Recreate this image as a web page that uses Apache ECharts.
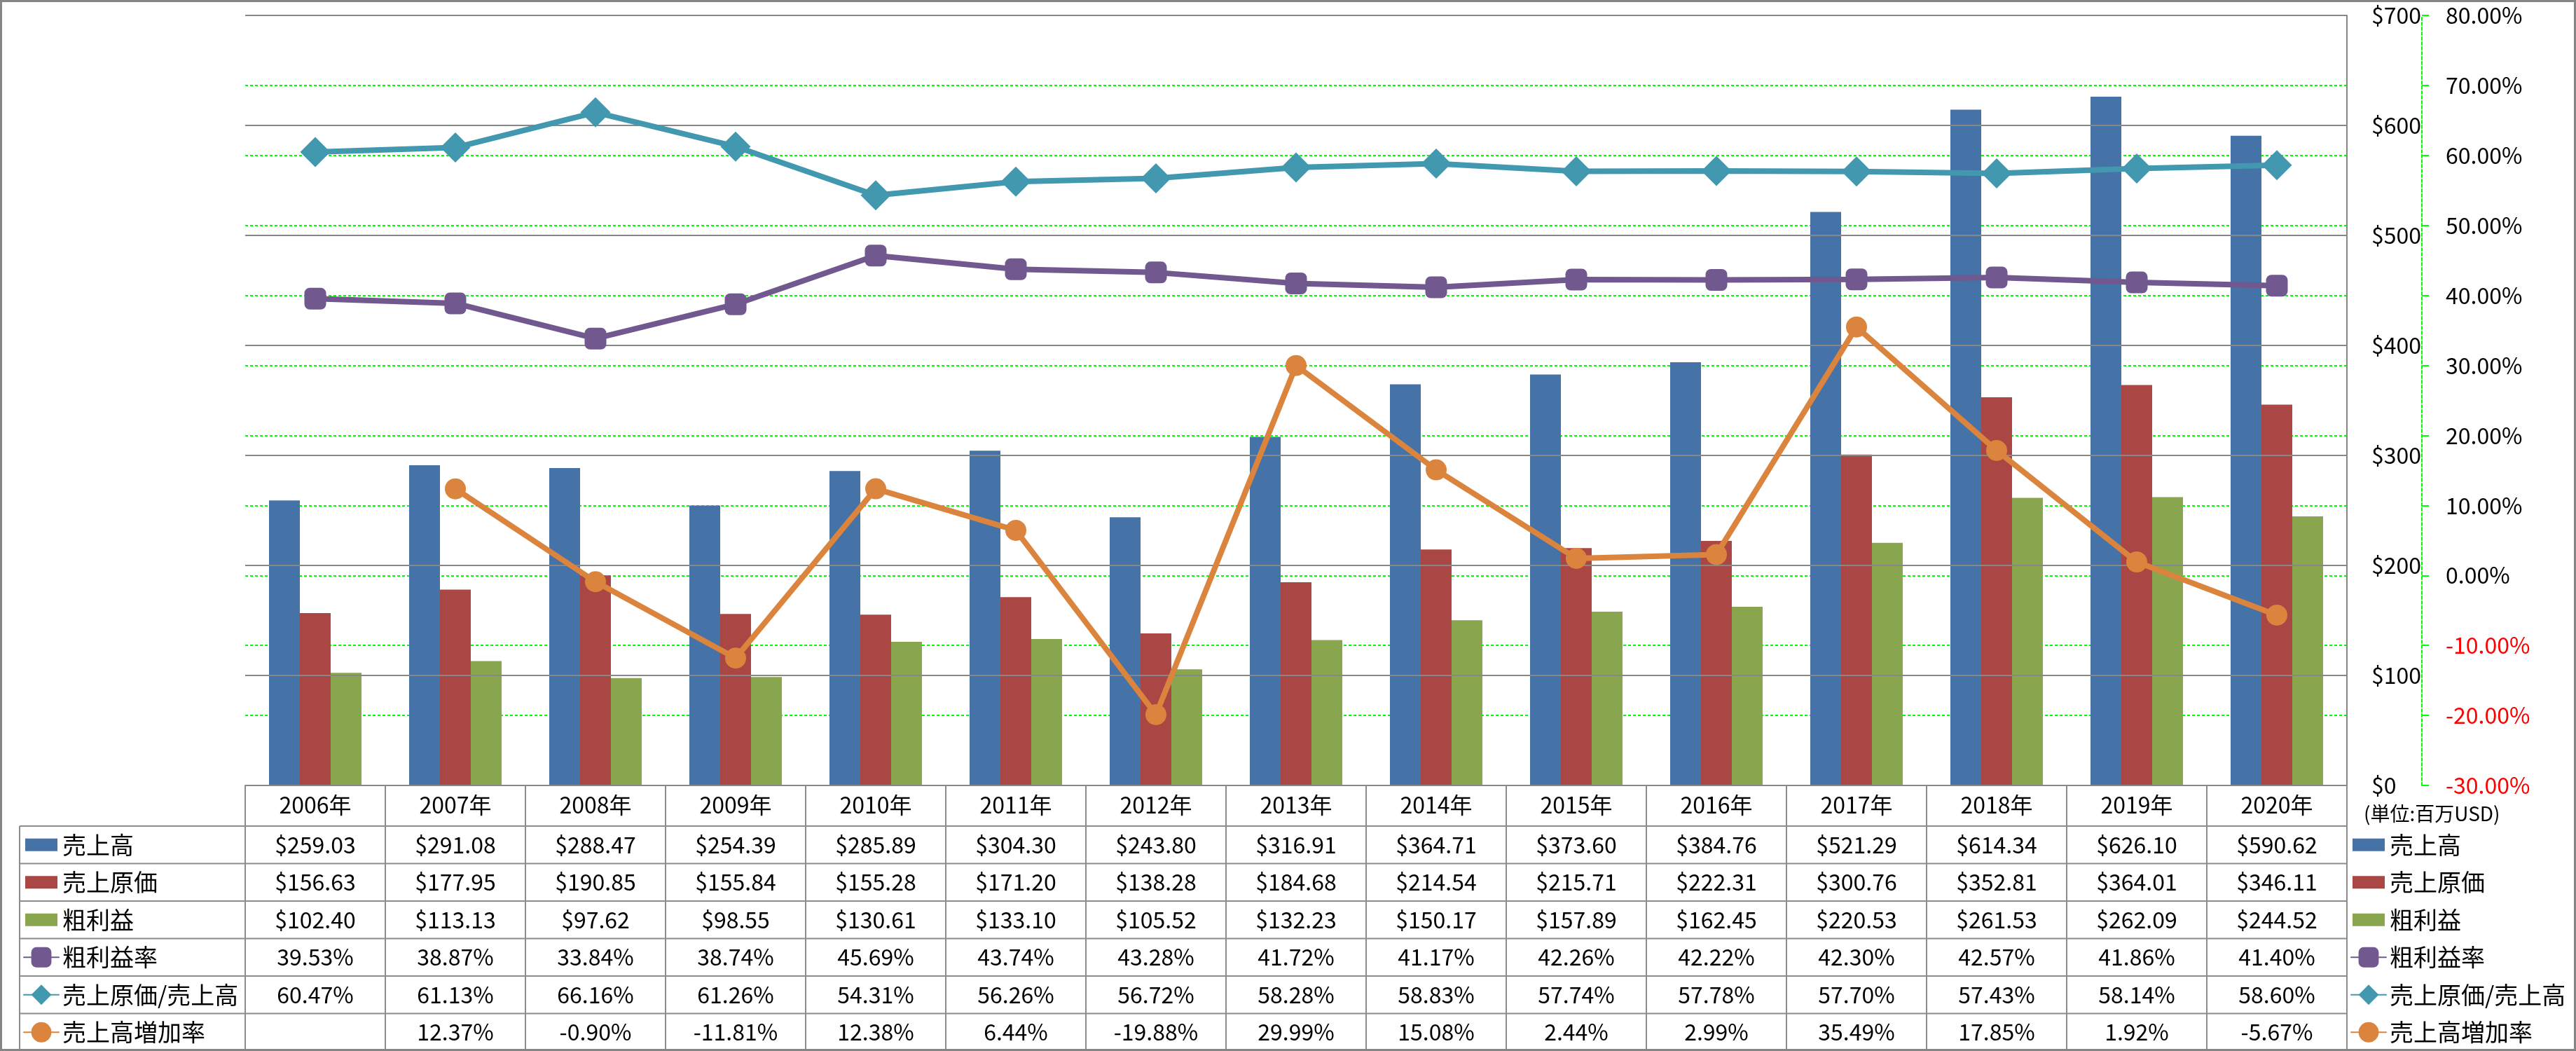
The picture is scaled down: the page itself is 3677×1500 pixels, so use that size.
<!DOCTYPE html>
<html><head><meta charset="utf-8">
<script src="https://cdn.jsdelivr.net/npm/echarts@6/dist/echarts.min.js"></script>
<style>html,body{margin:0;padding:0;background:#fff}#c{width:3677px;height:1500px}</style>
</head><body><div id="c"></div>
<script>
// ---- data ----
const years = ['2006年','2007年','2008年','2009年','2010年','2011年','2012年','2013年','2014年','2015年','2016年','2017年','2018年','2019年','2020年'];
const sales = [259.03,291.08,288.47,254.39,285.89,304.30,243.80,316.91,364.71,373.60,384.76,521.29,614.34,626.10,590.62];
const cogs = [156.63,177.95,190.85,155.84,155.28,171.20,138.28,184.68,214.54,215.71,222.31,300.76,352.81,364.01,346.11];
const gross = [102.40,113.13,97.62,98.55,130.61,133.10,105.52,132.23,150.17,157.89,162.45,220.53,261.53,262.09,244.52];
const grossRate = [39.53,38.87,33.84,38.74,45.69,43.74,43.28,41.72,41.17,42.26,42.22,42.30,42.57,41.86,41.40];
const cogsRate = [60.47,61.13,66.16,61.26,54.31,56.26,56.72,58.28,58.83,57.74,57.78,57.70,57.43,58.14,58.60];
const growthRate = [null,12.37,-0.90,-11.81,12.38,6.44,-19.88,29.99,15.08,2.44,2.99,35.49,17.85,1.92,-5.67];
const seriesNames = ['売上高','売上原価','粗利益','粗利益率','売上原価/売上高','売上高増加率'];
const unitText = '(単位:百万USD)';
const usdAxis = {min: 0, max: 700, step: 100};
const pctAxis = {min: -30, max: 80, step: 10};

// ---- styles ----
const FONT = 'Noto Sans CJK JP';
const colors = ['#4572A7','#AA4643','#89A54E','#71588F','#4198AF','#DB843D'];
const GRID = {left: 350, right: 327, top: 22, bottom: 379};
const HEADER_H = 58, ROW_H = 53.5, TABLE_LEFT = 28;
const GRAY = '#878787', GREEN = '#00FF00';
const DASH = [4, 3];
const ITEM_H = 36;

const money = v => v == null ? '' : '$' + v.toFixed(2);
const pct = v => v == null ? '' : v.toFixed(2) + '%';
const tableRows = [
  {data: sales, fmt: money}, {data: cogs, fmt: money}, {data: gross, fmt: money},
  {data: grossRate, fmt: pct}, {data: cogsRate, fmt: pct}, {data: growthRate, fmt: pct}
];

const barIcon = 'path://M0,0M46,36M0,9L46,9L46,27L0,27Z';
const legendData = seriesNames.map((n, i) => i < 3 ? {name: n, icon: barIcon} : {name: n});
const legendBase = {
  data: legendData, orient: 'vertical', padding: 0, selectedMode: false,
  itemWidth: 50, itemHeight: ITEM_H, itemGap: ROW_H - ITEM_H,
  top: 1500 - GRID.bottom + HEADER_H + ROW_H / 2 - ITEM_H / 2,
  textStyle: {fontSize: 34, lineHeight: ITEM_H, color: '#000', fontFamily: FONT}
};

const chart = echarts.init(document.getElementById('c'), null, {renderer: 'canvas'});
const option = {
  animation: false,
  color: colors,
  textStyle: {fontFamily: FONT},
  grid: GRID,
  legend: [
    Object.assign({}, legendBase, {left: 33}),
    Object.assign({}, legendBase, {left: 3355})
  ],
  xAxis: {
    type: 'category', data: years,
    axisLine: {show: true, lineStyle: {color: GRAY, width: 2}},
    axisTick: {show: false},
    axisLabel: {fontSize: 32, color: '#000', margin: 12, interval: 0}
  },
  yAxis: [
    {
      type: 'value', position: 'right', min: usdAxis.min, max: usdAxis.max, interval: usdAxis.step,
      axisLine: {show: true, lineStyle: {color: GRAY, width: 2}},
      axisTick: {show: false},
      axisLabel: {fontSize: 32, color: '#000', margin: 35, formatter: v => '$' + v},
      splitLine: {show: true, lineStyle: {color: GRAY, width: 2}},
      z: 3
    },
    {
      type: 'value', position: 'right', offset: 107, min: pctAxis.min, max: pctAxis.max, interval: pctAxis.step,
      axisLine: {show: true, lineStyle: {color: GREEN, width: 2, type: DASH}},
      axisTick: {show: true, length: 10, lineStyle: {color: GREEN, width: 2}},
      axisLabel: {fontSize: 32, margin: 34, formatter: v => v.toFixed(2) + '%',
        color: v => (v < 0 ? '#FF0000' : '#000')},
      splitLine: {show: true, lineStyle: {color: GREEN, width: 2, type: DASH}},
      z: 2
    }
  ],
  series: [
    {name: seriesNames[0], type: 'bar', data: sales, barWidth: 44, barGap: '0%'},
    {name: seriesNames[1], type: 'bar', data: cogs, barWidth: 44, barGap: '0%'},
    {name: seriesNames[2], type: 'bar', data: gross, barWidth: 44, barGap: '0%'},
    {name: seriesNames[3], type: 'line', yAxisIndex: 1, data: grossRate, symbol: 'roundRect', symbolSize: 31,
      lineStyle: {width: 8, cap: 'round'}, z: 5},
    {name: seriesNames[4], type: 'line', yAxisIndex: 1, data: cogsRate, symbol: 'diamond', symbolSize: 43,
      lineStyle: {width: 8, cap: 'round'}, z: 5},
    {name: seriesNames[5], type: 'line', yAxisIndex: 1, data: growthRate, symbol: 'circle', symbolSize: 30,
      lineStyle: {width: 8, cap: 'round'}, z: 6}
  ]
};
chart.setOption(option);

// ---- table drawn from data via the category axis ----
const cx = i => chart.convertToPixel({xAxisIndex: 0}, i);
const colW = cx(1) - cx(0);
const x0 = cx(0) - colW / 2;
const xEnd = x0 + colW * years.length;
const axisY = chart.convertToPixel({yAxisIndex: 0}, 0);
const headerBottom = axisY + HEADER_H;
const H = 1500;
const lineStyle = {stroke: '#8c8c8c', lineWidth: 2};
const g = [];
for (let r = 0; r < tableRows.length; r++) {
  const y = headerBottom + r * ROW_H;
  g.push({type: 'line', shape: {x1: TABLE_LEFT, y1: y, x2: xEnd, y2: y}, style: lineStyle, z: 10});
}
g.push({type: 'line', shape: {x1: TABLE_LEFT, y1: headerBottom, x2: TABLE_LEFT, y2: H}, style: lineStyle, z: 10});
for (let k = 0; k <= years.length; k++) {
  const x = x0 + k * colW;
  g.push({type: 'line', shape: {x1: x, y1: axisY, x2: x, y2: H}, style: lineStyle, z: 10});
}
tableRows.forEach((row, r) => {
  const y = headerBottom + r * ROW_H + ROW_H / 2;
  row.data.forEach((v, i) => {
    const t = row.fmt(v);
    if (!t) return;
    g.push({type: 'text', z: 11, style: {text: t, x: cx(i), y: y, fill: '#000',
      fontSize: 32, fontFamily: FONT, align: 'center', verticalAlign: 'middle',
      textAlign: 'center', textVerticalAlign: 'middle'}});
  });
});
g.push({type: 'text', z: 11, style: {text: unitText, x: 3374, y: axisY + 40, fill: '#000',
  fontSize: 28, fontFamily: FONT, align: 'left', verticalAlign: 'middle', textAlign: 'left', textVerticalAlign: 'middle'}});
g.push({type: 'rect', z: 20, shape: {x: 1.5, y: 1.5, width: 3674, height: 1497},
  style: {fill: 'none', stroke: '#868686', lineWidth: 3}});
chart.setOption({graphic: g});
</script></body></html>
